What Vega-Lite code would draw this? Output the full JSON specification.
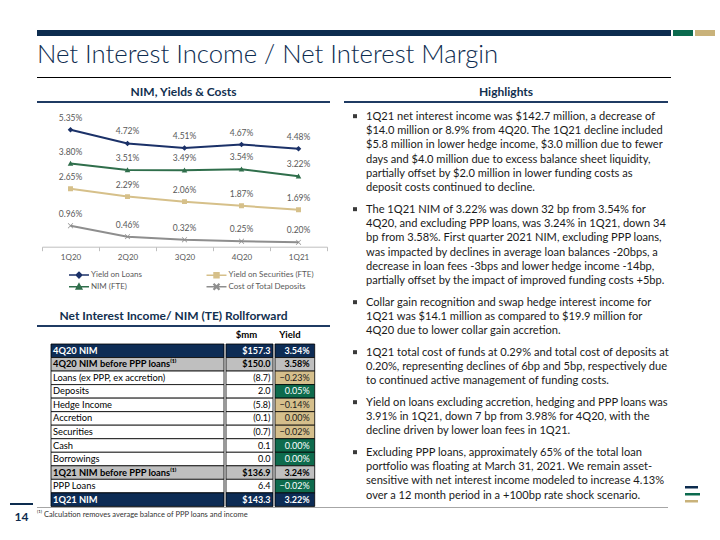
{
  "$schema": "https://vega.github.io/schema/vega-lite/v6.json",
  "background": "white",
  "padding": {"left": 10, "top": 30, "right": 0, "bottom": 0},
  "config": {"view": {"stroke": null}, "font": "Lato", "text": {"font": "Lato"}},
  "datasets": {
    "nim": [
      {"q": "1Q20", "s": "Yield on Loans", "v": 0.0535},
      {"q": "2Q20", "s": "Yield on Loans", "v": 0.0472},
      {"q": "3Q20", "s": "Yield on Loans", "v": 0.0451},
      {"q": "4Q20", "s": "Yield on Loans", "v": 0.0467},
      {"q": "1Q21", "s": "Yield on Loans", "v": 0.0448},
      {"q": "1Q20", "s": "Yield on Securities (FTE)", "v": 0.0265},
      {"q": "2Q20", "s": "Yield on Securities (FTE)", "v": 0.0229},
      {"q": "3Q20", "s": "Yield on Securities (FTE)", "v": 0.0206},
      {"q": "4Q20", "s": "Yield on Securities (FTE)", "v": 0.0187},
      {"q": "1Q21", "s": "Yield on Securities (FTE)", "v": 0.0169},
      {"q": "1Q20", "s": "NIM (FTE)", "v": 0.0380},
      {"q": "2Q20", "s": "NIM (FTE)", "v": 0.0351},
      {"q": "3Q20", "s": "NIM (FTE)", "v": 0.0349},
      {"q": "4Q20", "s": "NIM (FTE)", "v": 0.0354},
      {"q": "1Q21", "s": "NIM (FTE)", "v": 0.0322},
      {"q": "1Q20", "s": "Cost of Total Deposits", "v": 0.0096},
      {"q": "2Q20", "s": "Cost of Total Deposits", "v": 0.0046},
      {"q": "3Q20", "s": "Cost of Total Deposits", "v": 0.0032},
      {"q": "4Q20", "s": "Cost of Total Deposits", "v": 0.0025},
      {"q": "1Q21", "s": "Cost of Total Deposits", "v": 0.0020}
    ],
    "tbl": [
      {"item": "4Q20 NIM", "kind": "total", "mm": 157.3, "y": 0.0354},
      {"item": "4Q20 NIM before PPP loans⁽¹⁾", "kind": "sub", "mm": 150.0, "y": 0.0358},
      {"item": "Loans (ex PPP, ex accretion)", "kind": "item", "mm": -8.7, "y": -0.0023},
      {"item": "Deposits", "kind": "item", "mm": 2.0, "y": 0.0005},
      {"item": "Hedge Income", "kind": "item", "mm": -5.8, "y": -0.0014},
      {"item": "Accretion", "kind": "item", "mm": -0.1, "y": 0.0},
      {"item": "Securities", "kind": "item", "mm": -0.7, "y": -0.0002},
      {"item": "Cash", "kind": "item", "mm": 0.1, "y": 0.0},
      {"item": "Borrowings", "kind": "item", "mm": 0.0, "y": 0.0},
      {"item": "1Q21 NIM before PPP loans⁽¹⁾", "kind": "sub", "mm": 136.9, "y": 0.0324},
      {"item": "PPP Loans", "kind": "item", "mm": 6.4, "y": -0.0002},
      {"item": "1Q21 NIM", "kind": "total", "mm": 143.3, "y": 0.0322}
    ],
    "bul": [
      {"id": 1, "t": "1Q21 net interest income was $142.7 million, a decrease of\n$14.0 million or 8.9% from 4Q20.  The 1Q21 decline included\n$5.8 million in lower hedge income, $3.0 million due to fewer\ndays and $4.0 million due to excess balance sheet liquidity,\npartially offset by $2.0 million in lower funding costs as\ndeposit costs continued to decline."},
      {"id": 2, "t": "The 1Q21 NIM of 3.22% was down 32 bp from 3.54% for\n4Q20, and excluding PPP loans, was 3.24% in 1Q21, down 34\nbp from 3.58%.  First quarter 2021 NIM, excluding PPP loans,\nwas impacted by declines in average loan balances -20bps, a\ndecrease in loan fees -3bps and lower hedge income -14bp,\npartially offset by the impact of improved funding costs +5bp."},
      {"id": 3, "t": "Collar gain recognition and swap hedge interest income for\n1Q21 was $14.1 million as compared to $19.9 million for\n4Q20 due to lower collar gain accretion."},
      {"id": 4, "t": "1Q21 total cost of funds at 0.29% and total cost of deposits at\n0.20%, representing declines of 6bp and 5bp, respectively due\nto continued active management of funding costs."},
      {"id": 5, "t": "Yield on loans excluding accretion, hedging and PPP loans was\n3.91% in 1Q21, down 7 bp from 3.98% for 4Q20, with the\ndecline driven by lower loan fees in 1Q21."},
      {"id": 6, "t": "Excluding PPP loans, approximately 65% of the total loan\nportfolio was floating at March 31, 2021.  We remain asset-\nsensitive with net interest income modeled to increase 4.13%\nover a 12 month period in a +100bp rate shock scenario."}
    ]
  },
  "spacing": 0,
  "vconcat": [
    {"spacing": 2, "hconcat": [
      {"width": 25, "height": 6, "data": {"values": []}, "mark": "point"},
      {"width": 634, "height": 6, "view": {"fill": "#0d2c4f"}, "data": {"values": []}, "mark": "point"},
      {"width": 20, "height": 6, "view": {"fill": "#0b6a4e"}, "data": {"values": []}, "mark": "point"},
      {"width": 20, "height": 6, "view": {"fill": "#c9b27a"}, "data": {"values": []}, "mark": "point"}
    ]},
    {"spacing": 2, "hconcat": [
      {"width": 25, "height": 41, "data": {"values": []}, "mark": "point"},
      {"width": 634, "height": 41, "data": {"values": [{"t": "Net Interest Income / Net Interest Margin"}]},
       "mark": {"type": "text", "align": "left", "baseline": "middle", "fontSize": 25.7, "fontWeight": 300, "color": "#0d2c4f", "dy": -2},
       "encoding": {"text": {"field": "t"},
         "x": {"datum": 0, "type": "quantitative", "scale": {"domain": [0, 1]}, "axis": null},
         "y": {"datum": 0.5, "type": "quantitative", "scale": {"domain": [0, 1]}, "axis": null}}}
    ]},
    {"spacing": 2, "hconcat": [
      {"width": 25, "height": 1, "data": {"values": []}, "mark": "point"},
      {"width": 634, "height": 1, "view": {"fill": "#000000"}, "data": {"values": []}, "mark": "point"}
    ]},
    {"spacing": 0, "hconcat": [
      {"spacing": 0, "vconcat": [
        {"width": 27, "height": 425, "data": {"values": []}, "mark": "point"},
        {"width": 23, "height": 2, "view": {"fill": "#0d2c4f"}, "data": {"values": []}, "mark": "point"}
      ]},
      {"spacing": 0, "vconcat": [
        {"width": 293, "height": 5, "data": {"values": []}, "mark": "point"},
        {"width": 293, "height": 18, "data": {"values": [{"t": "NIM, Yields & Costs"}]},
         "mark": {"type": "text", "align": "center", "baseline": "middle", "fontSize": 12, "fontWeight": "bold", "color": "#12304f"},
         "encoding": {"text": {"field": "t"},
           "x": {"datum": 0.5, "type": "quantitative", "scale": {"domain": [0, 1]}, "axis": null},
           "y": {"datum": 0.5, "type": "quantitative", "scale": {"domain": [0, 1]}, "axis": null}}},
        {"width": 293, "height": 2, "view": {"fill": "#1f3b63"}, "data": {"values": []}, "mark": "point"},
        {"width": 293, "height": 6.8, "data": {"values": []}, "mark": "point"},
        {"spacing": 0, "hconcat": [
          {"width": 4, "height": 1, "data": {"values": []}, "mark": "point"},
          {"width": 285, "height": 136.7, "data": {"name": "nim"},
           "encoding": {
             "x": {"field": "q", "type": "ordinal", "sort": ["1Q20", "2Q20", "3Q20", "4Q20", "1Q21"],
                   "scale": {"type": "band", "paddingInner": 0, "paddingOuter": 0},
                   "axis": {"title": null, "labelAngle": 0, "labelFontSize": 8, "labelColor": "#595959", "labelPadding": 3, "domainColor": "#bfbfbf", "tickColor": "#bfbfbf", "tickSize": 4, "tickBand": "extent", "grid": false}},
             "y": {"field": "v", "type": "quantitative", "scale": {"domain": [0, 0.0625], "nice": false}, "axis": null}
           },
           "layer": [
             {"mark": {"type": "line", "strokeWidth": 2},
              "encoding": {"color": {"field": "s", "type": "nominal",
                "scale": {"domain": ["Yield on Loans", "NIM (FTE)", "Yield on Securities (FTE)", "Cost of Total Deposits"], "range": ["#1b3168", "#2f6e4b", "#d6c08a", "#8e8e8e"]}}}},
             {"mark": {"type": "point", "filled": true, "size": 81, "opacity": 1},
              "encoding": {
                "color": {"field": "s", "type": "nominal"},
                "shape": {"field": "s", "type": "nominal",
                  "scale": {"domain": ["Yield on Loans", "NIM (FTE)", "Yield on Securities (FTE)", "Cost of Total Deposits"],
                    "range": ["M-2.22,0H2.22M0,-0.62L0.62,0L0,0.62L-0.62,0Z", "M-2.22,0H2.22M0,-0.62L0.62,0.5H-0.62Z", "M-2.22,0H2.22M-0.55,-0.55H0.55V0.55H-0.55Z", "M-2.22,0H2.22M-0.6,-0.49L-0.49,-0.6L0,-0.11L0.49,-0.6L0.6,-0.49L0.11,0L0.6,0.49L0.49,0.6L0,0.11L-0.49,0.6L-0.6,0.49L-0.11,0Z"]}}
              }},
             {"transform": [{"filter": "false"}],
              "mark": {"type": "point", "filled": false, "size": 81, "strokeWidth": 1.5, "opacity": 1},
              "encoding": {
                "color": {"field": "s", "type": "nominal",
                  "legend": {"orient": "none", "legendX": 63.5, "legendY": 239.2, "columns": 2, "title": null, "symbolSize": 81, "symbolStrokeWidth": 1.5, "symbolOpacity": 1, "labelFontSize": 8, "labelColor": "#595959", "labelOffset": 6.5, "columnPadding": 60.5, "rowPadding": -6, "padding": 0}},
                "shape": {"field": "s", "type": "nominal",
                  "legend": {"orient": "none", "legendX": 63.5, "legendY": 239.2, "columns": 2, "title": null, "symbolSize": 81, "symbolStrokeWidth": 1.5, "symbolOpacity": 1, "labelFontSize": 8, "labelColor": "#595959", "labelOffset": 6.5, "columnPadding": 60.5, "rowPadding": -6, "padding": 0}}
              }},
             {"mark": {"type": "text", "baseline": "alphabetic", "dy": -9, "fontSize": 8.5, "color": "#595959"},
              "encoding": {"text": {"field": "v", "type": "quantitative", "format": ".2%"}}}
           ]}
        ]},
        {"width": 293, "height": 44.4, "data": {"values": []}, "mark": "point"},
        {"width": 293, "height": 18, "data": {"values": [{"t": "Net Interest Income/ NIM (TE) Rollforward"}]},
         "mark": {"type": "text", "align": "center", "baseline": "middle", "fontSize": 12, "fontWeight": "bold", "color": "#12304f", "dx": -10},
         "encoding": {"text": {"field": "t"},
           "x": {"datum": 0.5, "type": "quantitative", "scale": {"domain": [0, 1]}, "axis": null},
           "y": {"datum": 0.5, "type": "quantitative", "scale": {"domain": [0, 1]}, "axis": null}}},
        {"width": 293, "height": 2, "view": {"fill": "#1f3b63"}, "data": {"values": []}, "mark": "point"},
        {"spacing": 0, "hconcat": [
          {"width": 185.3, "height": 15.3, "data": {"values": []}, "mark": "point"},
          {"width": 47, "height": 15.3, "data": {"values": [{"t": "$mm"}]},
           "mark": {"type": "text", "align": "center", "baseline": "middle", "fontSize": 9.5, "fontWeight": "bold", "color": "#000"},
           "encoding": {"text": {"field": "t"},
             "x": {"datum": 0.5, "type": "quantitative", "scale": {"domain": [0, 1]}, "axis": null},
             "y": {"datum": 0.5, "type": "quantitative", "scale": {"domain": [0, 1]}, "axis": null}}},
          {"width": 39.7, "height": 15.3, "data": {"values": [{"t": "Yield"}]},
           "mark": {"type": "text", "align": "center", "baseline": "middle", "fontSize": 9.5, "fontWeight": "bold", "color": "#000"},
           "encoding": {"text": {"field": "t"},
             "x": {"datum": 0.5, "type": "quantitative", "scale": {"domain": [0, 1]}, "axis": null},
             "y": {"datum": 0.5, "type": "quantitative", "scale": {"domain": [0, 1]}, "axis": null}}}
        ]},
        {"spacing": 0, "hconcat": [
          {"width": 12.3, "height": 1, "data": {"values": []}, "mark": "point"},
          {"width": 173, "height": 162.4, "data": {"name": "tbl"},
           "encoding": {"y": {"field": "item", "type": "nominal", "sort": ["4Q20 NIM", "4Q20 NIM before PPP loans⁽¹⁾", "Loans (ex PPP, ex accretion)", "Deposits", "Hedge Income", "Accretion", "Securities", "Cash", "Borrowings", "1Q21 NIM before PPP loans⁽¹⁾", "PPP Loans", "1Q21 NIM"], "scale": {"paddingInner": 0, "paddingOuter": 0}, "axis": null},
             "x": {"datum": 0, "type": "quantitative", "scale": {"domain": [0, 1]}, "axis": null}},
           "layer": [
             {"mark": {"type": "rect", "stroke": "#000", "strokeWidth": 0.8},
              "encoding": {"x2": {"datum": 1},
                "fill": {"condition": [{"test": "datum.kind === 'total'", "value": "#0d2c55"}, {"test": "datum.kind === 'sub'", "value": "#bfbfbf"}], "value": "#ffffff"}}},
             {"transform": [{"filter": "datum.kind !== 'item'"}],
              "mark": {"type": "text", "align": "left", "dx": 2, "fontSize": 9.3, "fontWeight": "bold"},
              "encoding": {"text": {"field": "item"}, "color": {"condition": {"test": "datum.kind === 'total'", "value": "#ffffff"}, "value": "#000000"}}},
             {"transform": [{"filter": "datum.kind === 'item'"}],
              "mark": {"type": "text", "align": "left", "dx": 2, "fontSize": 9.3, "color": "#000000"},
              "encoding": {"text": {"field": "item"}}}
           ]},
          {"width": 47, "height": 162.4, "data": {"name": "tbl"},
           "encoding": {"y": {"field": "item", "type": "nominal", "sort": ["4Q20 NIM", "4Q20 NIM before PPP loans⁽¹⁾", "Loans (ex PPP, ex accretion)", "Deposits", "Hedge Income", "Accretion", "Securities", "Cash", "Borrowings", "1Q21 NIM before PPP loans⁽¹⁾", "PPP Loans", "1Q21 NIM"], "scale": {"paddingInner": 0, "paddingOuter": 0}, "axis": null}},
           "layer": [
             {"mark": {"type": "rect", "stroke": "#000", "strokeWidth": 0.8},
              "encoding": {"x": {"datum": 0, "type": "quantitative", "scale": {"domain": [0, 1]}, "axis": null}, "x2": {"datum": 1},
                "fill": {"condition": [{"test": "datum.kind === 'total'", "value": "#0d2c55"}, {"test": "datum.kind === 'sub'", "value": "#bfbfbf"}], "value": "#ffffff"}}},
             {"transform": [{"filter": "datum.kind !== 'item'"}],
              "mark": {"type": "text", "align": "right", "dx": -2.5, "fontSize": 9, "fontWeight": "bold"},
              "encoding": {"x": {"datum": 1, "type": "quantitative", "scale": {"domain": [0, 1]}, "axis": null},
                "text": {"field": "mm", "type": "quantitative", "format": "$.1f"}, "color": {"condition": {"test": "datum.kind === 'total'", "value": "#ffffff"}, "value": "#000000"}}},
             {"transform": [{"filter": "datum.kind === 'item'"}],
              "mark": {"type": "text", "align": "right", "dx": -2.5, "fontSize": 9, "color": "#000000"},
              "encoding": {"x": {"datum": 1, "type": "quantitative", "scale": {"domain": [0, 1]}, "axis": null},
                "text": {"field": "mm", "type": "quantitative", "format": "(.1f"}}}
           ]},
          {"width": 39.7, "height": 162.4, "data": {"name": "tbl"},
           "encoding": {"y": {"field": "item", "type": "nominal", "sort": ["4Q20 NIM", "4Q20 NIM before PPP loans⁽¹⁾", "Loans (ex PPP, ex accretion)", "Deposits", "Hedge Income", "Accretion", "Securities", "Cash", "Borrowings", "1Q21 NIM before PPP loans⁽¹⁾", "PPP Loans", "1Q21 NIM"], "scale": {"paddingInner": 0, "paddingOuter": 0}, "axis": null}},
           "layer": [
             {"mark": {"type": "rect", "stroke": "#000", "strokeWidth": 0.8},
              "encoding": {"x": {"datum": 0, "type": "quantitative", "scale": {"domain": [0, 1]}, "axis": null}, "x2": {"datum": 1},
                "fill": {"condition": [{"test": "datum.kind === 'total'", "value": "#0d2c55"}, {"test": "datum.kind === 'sub'", "value": "#bfbfbf"}, {"test": "datum.mm < 0", "value": "#d5bf8c"}], "value": "#0e6b4d"}}},
             {"transform": [{"filter": "datum.kind !== 'item'"}],
              "mark": {"type": "text", "align": "right", "dx": -5, "fontSize": 9, "fontWeight": "bold"},
              "encoding": {"x": {"datum": 1, "type": "quantitative", "scale": {"domain": [0, 1]}, "axis": null},
                "text": {"field": "y", "type": "quantitative", "format": ".2%"}, "color": {"condition": {"test": "datum.kind === 'total'", "value": "#ffffff"}, "value": "#000000"}}},
             {"transform": [{"filter": "datum.kind === 'item'"}],
              "mark": {"type": "text", "align": "right", "dx": -5, "fontSize": 9},
              "encoding": {"x": {"datum": 1, "type": "quantitative", "scale": {"domain": [0, 1]}, "axis": null},
                "text": {"field": "y", "type": "quantitative", "format": ".2%"}, "color": {"condition": {"test": "datum.mm < 0", "value": "#1a1a1a"}, "value": "#ffffff"}}}
           ]}
        ]}
      ]},
      {"width": 14, "height": 1, "data": {"values": []}, "mark": "point"},
      {"spacing": 0, "vconcat": [
        {"width": 324, "height": 5, "data": {"values": []}, "mark": "point"},
        {"width": 324, "height": 18, "data": {"values": [{"t": "Highlights"}]},
         "mark": {"type": "text", "align": "center", "baseline": "middle", "fontSize": 12, "fontWeight": "bold", "color": "#12304f"},
         "encoding": {"text": {"field": "t"},
           "x": {"datum": 0.5, "type": "quantitative", "scale": {"domain": [0, 1]}, "axis": null},
           "y": {"datum": 0.5, "type": "quantitative", "scale": {"domain": [0, 1]}, "axis": null}}},
        {"width": 324, "height": 2, "view": {"fill": "#1f3b63"}, "data": {"values": []}, "mark": "point"},
        {"width": 324, "height": 5.8, "data": {"values": []}, "mark": "point"},
        {"spacing": 6, "vconcat": [
          {"spacing": 0, "hconcat": [
            {"width": 22, "height": 14.35, "data": {"values": [{}]}, "mark": {"type": "point", "shape": "square", "filled": true, "size": 16, "color": "#3a3a3a", "opacity": 1},
             "encoding": {"x": {"datum": 0.5, "type": "quantitative", "scale": {"domain": [0, 1]}, "axis": null}, "y": {"datum": 0.5, "type": "quantitative", "scale": {"domain": [0, 1]}, "axis": null}}},
            {"width": 302, "height": 86.1, "data": {"name": "bul"}, "transform": [{"filter": "datum.id === 1"}],
             "mark": {"type": "text", "align": "left", "baseline": "top", "dy": 1.5, "lineBreak": "\n", "lineHeight": 14.35, "fontSize": 11.1, "color": "#1a1a1a"},
             "encoding": {"text": {"field": "t"}, "x": {"datum": 0, "type": "quantitative", "scale": {"domain": [0, 1]}, "axis": null}, "y": {"datum": 1, "type": "quantitative", "scale": {"domain": [0, 1]}, "axis": null}}}
          ]},
          {"spacing": 0, "hconcat": [
            {"width": 22, "height": 14.35, "data": {"values": [{}]}, "mark": {"type": "point", "shape": "square", "filled": true, "size": 16, "color": "#3a3a3a", "opacity": 1},
             "encoding": {"x": {"datum": 0.5, "type": "quantitative", "scale": {"domain": [0, 1]}, "axis": null}, "y": {"datum": 0.5, "type": "quantitative", "scale": {"domain": [0, 1]}, "axis": null}}},
            {"width": 302, "height": 86.1, "data": {"name": "bul"}, "transform": [{"filter": "datum.id === 2"}],
             "mark": {"type": "text", "align": "left", "baseline": "top", "dy": 1.5, "lineBreak": "\n", "lineHeight": 14.35, "fontSize": 11.1, "color": "#1a1a1a"},
             "encoding": {"text": {"field": "t"}, "x": {"datum": 0, "type": "quantitative", "scale": {"domain": [0, 1]}, "axis": null}, "y": {"datum": 1, "type": "quantitative", "scale": {"domain": [0, 1]}, "axis": null}}}
          ]},
          {"spacing": 0, "hconcat": [
            {"width": 22, "height": 14.35, "data": {"values": [{}]}, "mark": {"type": "point", "shape": "square", "filled": true, "size": 16, "color": "#3a3a3a", "opacity": 1},
             "encoding": {"x": {"datum": 0.5, "type": "quantitative", "scale": {"domain": [0, 1]}, "axis": null}, "y": {"datum": 0.5, "type": "quantitative", "scale": {"domain": [0, 1]}, "axis": null}}},
            {"width": 302, "height": 43.05, "data": {"name": "bul"}, "transform": [{"filter": "datum.id === 3"}],
             "mark": {"type": "text", "align": "left", "baseline": "top", "dy": 1.5, "lineBreak": "\n", "lineHeight": 14.35, "fontSize": 11.1, "color": "#1a1a1a"},
             "encoding": {"text": {"field": "t"}, "x": {"datum": 0, "type": "quantitative", "scale": {"domain": [0, 1]}, "axis": null}, "y": {"datum": 1, "type": "quantitative", "scale": {"domain": [0, 1]}, "axis": null}}}
          ]},
          {"spacing": 0, "hconcat": [
            {"width": 22, "height": 14.35, "data": {"values": [{}]}, "mark": {"type": "point", "shape": "square", "filled": true, "size": 16, "color": "#3a3a3a", "opacity": 1},
             "encoding": {"x": {"datum": 0.5, "type": "quantitative", "scale": {"domain": [0, 1]}, "axis": null}, "y": {"datum": 0.5, "type": "quantitative", "scale": {"domain": [0, 1]}, "axis": null}}},
            {"width": 302, "height": 43.05, "data": {"name": "bul"}, "transform": [{"filter": "datum.id === 4"}],
             "mark": {"type": "text", "align": "left", "baseline": "top", "dy": 1.5, "lineBreak": "\n", "lineHeight": 14.35, "fontSize": 11.1, "color": "#1a1a1a"},
             "encoding": {"text": {"field": "t"}, "x": {"datum": 0, "type": "quantitative", "scale": {"domain": [0, 1]}, "axis": null}, "y": {"datum": 1, "type": "quantitative", "scale": {"domain": [0, 1]}, "axis": null}}}
          ]},
          {"spacing": 0, "hconcat": [
            {"width": 22, "height": 14.35, "data": {"values": [{}]}, "mark": {"type": "point", "shape": "square", "filled": true, "size": 16, "color": "#3a3a3a", "opacity": 1},
             "encoding": {"x": {"datum": 0.5, "type": "quantitative", "scale": {"domain": [0, 1]}, "axis": null}, "y": {"datum": 0.5, "type": "quantitative", "scale": {"domain": [0, 1]}, "axis": null}}},
            {"width": 302, "height": 43.05, "data": {"name": "bul"}, "transform": [{"filter": "datum.id === 5"}],
             "mark": {"type": "text", "align": "left", "baseline": "top", "dy": 1.5, "lineBreak": "\n", "lineHeight": 14.35, "fontSize": 11.1, "color": "#1a1a1a"},
             "encoding": {"text": {"field": "t"}, "x": {"datum": 0, "type": "quantitative", "scale": {"domain": [0, 1]}, "axis": null}, "y": {"datum": 1, "type": "quantitative", "scale": {"domain": [0, 1]}, "axis": null}}}
          ]},
          {"spacing": 0, "hconcat": [
            {"width": 22, "height": 14.35, "data": {"values": [{}]}, "mark": {"type": "point", "shape": "square", "filled": true, "size": 16, "color": "#3a3a3a", "opacity": 1},
             "encoding": {"x": {"datum": 0.5, "type": "quantitative", "scale": {"domain": [0, 1]}, "axis": null}, "y": {"datum": 0.5, "type": "quantitative", "scale": {"domain": [0, 1]}, "axis": null}}},
            {"width": 302, "height": 57.4, "data": {"name": "bul"}, "transform": [{"filter": "datum.id === 6"}],
             "mark": {"type": "text", "align": "left", "baseline": "top", "dy": 1.5, "lineBreak": "\n", "lineHeight": 14.35, "fontSize": 11.1, "color": "#1a1a1a"},
             "encoding": {"text": {"field": "t"}, "x": {"datum": 0, "type": "quantitative", "scale": {"domain": [0, 1]}, "axis": null}, "y": {"datum": 1, "type": "quantitative", "scale": {"domain": [0, 1]}, "axis": null}}}
          ]}
        ]}
      ]},
      {"width": 14.5, "height": 1, "data": {"values": []}, "mark": "point"},
      {"spacing": 0, "vconcat": [
        {"width": 15, "height": 407.5, "data": {"values": []}, "mark": "point"},
        {"width": 13, "height": 2.5, "view": {"fill": "#0d2c4f"}, "data": {"values": []}, "mark": "point"},
        {"width": 15, "height": 4, "data": {"values": []}, "mark": "point"},
        {"width": 15, "height": 2.5, "view": {"fill": "#0b6a4e"}, "data": {"values": []}, "mark": "point"},
        {"width": 15, "height": 4, "data": {"values": []}, "mark": "point"},
        {"width": 13, "height": 2.5, "view": {"fill": "#c9b27a"}, "data": {"values": []}, "mark": "point"}
      ]}
    ]},
    {"spacing": 0, "hconcat": [
      {"width": 23, "height": 20, "data": {"values": [{"t": "14"}]},
       "mark": {"type": "text", "align": "center", "baseline": "middle", "fontSize": 12, "fontWeight": "bold", "color": "#0d2c4f"},
       "encoding": {"text": {"field": "t"},
         "x": {"datum": 0.5, "type": "quantitative", "scale": {"domain": [0, 1]}, "axis": null},
         "y": {"datum": 0.5, "type": "quantitative", "scale": {"domain": [0, 1]}, "axis": null}}},
      {"width": 4, "height": 1, "data": {"values": []}, "mark": "point"},
      {"spacing": 0, "vconcat": [
        {"width": 631, "height": 1, "view": {"fill": "#a6a6a6"}, "data": {"values": []}, "mark": "point"},
        {"width": 631, "height": 14, "data": {"values": [{"t": "⁽¹⁾ Calculation removes average balance of PPP loans and income"}]},
         "mark": {"type": "text", "align": "left", "baseline": "middle", "fontSize": 7.5, "color": "#333333"},
         "encoding": {"text": {"field": "t"},
           "x": {"datum": 0, "type": "quantitative", "scale": {"domain": [0, 1]}, "axis": null},
           "y": {"datum": 0.5, "type": "quantitative", "scale": {"domain": [0, 1]}, "axis": null}}}
      ]}
    ]}
  ]
}
